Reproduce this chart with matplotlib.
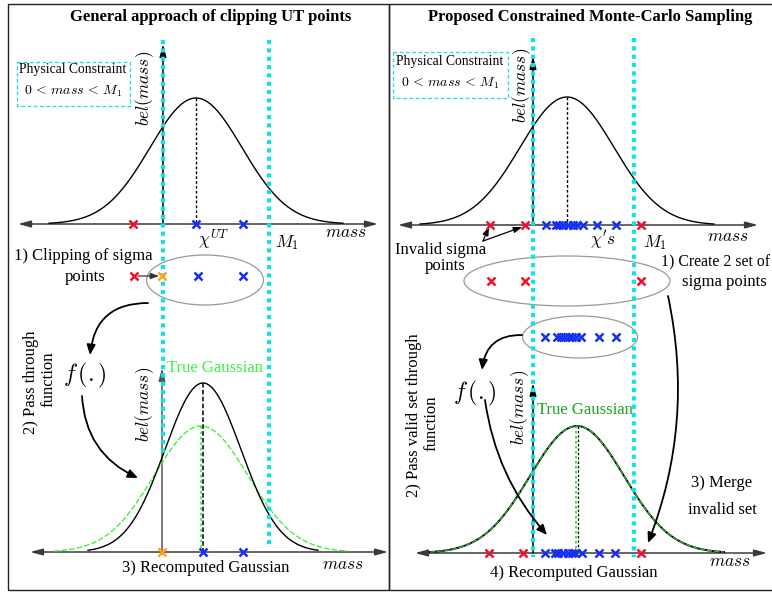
import numpy as np
import matplotlib
matplotlib.use("Agg")
import matplotlib.pyplot as plt
from matplotlib.patches import Ellipse, Rectangle, FancyArrowPatch

plt.rcParams['font.family'] = ['Liberation Serif', 'DejaVu Serif']
plt.rcParams['mathtext.fontset'] = 'cm'

# ---------------- data (pixel space of the diagram) ----------------
# left panel
L_axis_top_y = 224
L_axis_bot_y = 552
L_lower_bound = 163
L_upper_bound = 269
L_top_mu, L_top_sigma, L_top_peak = 196, 46, 126
L_sigma_top_red = [133]
L_sigma_top_blue = [196, 243]
L_clip_red = [134]
L_clip_orange = [162]
L_clip_blue = [198, 243]
L_rec_mu, L_rec_sigma, L_rec_peak = 203, 38, 169
L_true_mu, L_true_sigma, L_true_peak = 201, 47, 126
L_bot_orange = [162]
L_bot_blue = [203, 243]

# right panel
R_axis_top_y = 225
R_axis_bot_y = 553
R_lower_bound = 533
R_upper_bound = 634
R_top_mu, R_top_sigma, R_top_peak = 567, 47, 128
R_top_red = [490, 525, 641]
R_top_blue = [546, 556, 559, 563, 568, 573, 577, 583, 597, 616]
R_inv_red = [491, 525, 641]
R_val_blue = [545, 557, 561, 565, 569, 572, 576, 581, 599, 616]
R_bot_mu, R_bot_sigma, R_bot_peak = 577, 47, 127
R_bot_red = [489, 523, 641]
R_bot_blue = [545, 555, 558, 563, 568, 572, 575, 582, 599, 615]

CYAN = '#12e2e2'
RED = '#f0102a'
BLUE = '#1530f0'
ORANGE = '#ffa21a'
LIME = '#44ee44'
DGREEN = '#1fa31f'
AXC = '#3a3a3a'

fig = plt.figure(figsize=(7.72, 5.92), dpi=100)
ax = fig.add_axes([0, 0, 1, 1])
ax.set_xlim(0, 772)
ax.set_ylim(592, 0)
ax.axis('off')

# panel borders
ax.add_patch(Rectangle((8, 4), 381, 586, fill=False, ec='#222222', lw=1.0))
ax.add_patch(Rectangle((389, 4), 390, 586, fill=False, ec='#222222', lw=1.0))


def gauss(mu, sig, peak, base, half=147, **kw):
    x = np.linspace(mu - half, mu + half, 400)
    y = base - peak * np.exp(-(x - mu) ** 2 / (2 * sig ** 2))
    ax.plot(x, y, **kw)
    return mu, base - peak


HEAD = '-|>,head_length=0.75,head_width=0.2'
HEAD2 = '<|-|>,head_length=0.75,head_width=0.2'


def harrow(x0, x1, y):
    ax.annotate('', xy=(x0, y), xytext=(x1, y),
                arrowprops=dict(arrowstyle=HEAD2, color=AXC, lw=1.1,
                                shrinkA=0, shrinkB=0), zorder=2)


def varrow(x, y0, y1, color=AXC):
    ax.annotate('', xy=(x, y1), xytext=(x, y0),
                arrowprops=dict(arrowstyle=HEAD, color=color, lw=1.1,
                                shrinkA=0, shrinkB=0), zorder=2)


def cyan(x, y0, y1):
    ax.plot([x, x], [y0, y1], color=CYAN, lw=3.0, dashes=(1.0, 1.0),
            solid_capstyle='butt', dash_capstyle='butt', zorder=3)


def crosses(xs, y, color):
    ax.plot(xs, [y] * len(xs), ls='none', marker='x', ms=5.5, mew=1.8,
            color=color, zorder=5)


def curved(p0, p1, rad, lw=1.3):
    a = FancyArrowPatch(p0, p1, connectionstyle=f'arc3,rad={rad}',
                        arrowstyle='-|>,head_length=6,head_width=2.6',
                        color='black', lw=lw, shrinkA=0, shrinkB=0, zorder=4)
    ax.add_patch(a)


TS = 12
MS = 12.5
TT = 12
PC = 9.8
BD = 10
FS = 17

# ================= LEFT PANEL =================
ax.text(211, 17, 'General approach of clipping UT points', ha='center', va='center',
        fontsize=TT, fontweight='bold')
ax.add_patch(Rectangle((17, 62), 113, 44, fill=False, ec=CYAN, lw=0.9, ls=(0, (3, 2))))
ax.text(73, 70, 'Physical Constraint', ha='center', va='center', fontsize=PC)
ax.text(73, 91, r'$0\,<\,mass\,<\,M_1$', ha='center', va='center', fontsize=BD)

harrow(18, 378, L_axis_top_y)
varrow(L_lower_bound, L_axis_top_y, 44, color='black')
pk = gauss(L_top_mu, L_top_sigma, L_top_peak, L_axis_top_y, color='black', lw=1.0)
ax.plot([pk[0], pk[0]], [pk[1], L_axis_top_y], color='black', lw=1.0, ls=(0, (2, 1.5)))
crosses(L_sigma_top_red, L_axis_top_y, RED)
crosses(L_sigma_top_blue, L_axis_top_y, BLUE)
ax.text(145, 88, r'$bel(mass)$', rotation=90, ha='center', va='center', fontsize=MS)
ax.text(213, 240, r'$\chi^{UT}$', ha='center', va='center', fontsize=MS)
ax.text(287, 243, r'$M_1$', ha='center', va='center', fontsize=MS)
ax.text(346, 233, r'$mass$', ha='center', va='center', fontsize=MS)

ax.text(83, 256, '1) Clipping of sigma', ha='center', va='center', fontsize=TS)
ax.text(85, 277, 'points', ha='center', va='center', fontsize=TS)
ax.add_patch(Ellipse((205, 280), 117, 50, fill=False, ec='#999999', lw=0.9))
crosses(L_clip_red, 276, RED)
crosses(L_clip_orange, 276, ORANGE)
crosses(L_clip_blue, 276, BLUE)
ax.annotate('', xy=(L_clip_orange[0] - 3, 276), xytext=(L_clip_red[0] + 4, 276),
            arrowprops=dict(arrowstyle='-|>,head_length=0.5,head_width=0.18',
                            color='#333333', lw=0.9, shrinkA=0, shrinkB=0))

curved((148, 303), (90, 355), 0.45)
ax.text(85, 375, r'$f\,(.)$', ha='center', va='center', fontsize=FS)
curved((82, 396), (138, 478), 0.3)
ax.text(31, 382, '2) Pass through', rotation=90, ha='center', va='center', fontsize=TS)
ax.text(48, 379, 'function', rotation=90, ha='center', va='center', fontsize=TS)

harrow(30, 388, L_axis_bot_y)
varrow(L_lower_bound - 1, L_axis_bot_y, 368, color='#555555')
gauss(L_true_mu, L_true_sigma, L_true_peak, L_axis_bot_y, color=LIME, lw=1.0, ls=(0, (4, 1.5)))
pk2 = gauss(L_rec_mu, L_rec_sigma, L_rec_peak, L_axis_bot_y, half=115, color='black', lw=1.0)
ax.plot([L_true_mu, L_true_mu], [L_axis_bot_y - L_true_peak, L_axis_bot_y], color=LIME,
        lw=1.3, ls=(0, (1.5, 1.5)))
ax.plot([pk2[0], pk2[0]], [pk2[1], L_axis_bot_y], color='black', lw=1.1, ls=(0, (3, 1.5)))
crosses(L_bot_orange, L_axis_bot_y, ORANGE)
crosses(L_bot_blue, L_axis_bot_y, BLUE)
ax.text(145, 404, r'$bel(mass)$', rotation=90, ha='center', va='center', fontsize=MS)
ax.text(215, 368, 'True Gaussian', ha='center', va='center', fontsize=TS, color=LIME)
ax.text(206, 568, '3) Recomputed Gaussian', ha='center', va='center', fontsize=TS)
ax.text(343, 565, r'$mass$', ha='center', va='center', fontsize=MS)

cyan(L_lower_bound, 40, 455)
cyan(L_upper_bound, 40, 548)

# ================= RIGHT PANEL =================
ax.text(590, 17, 'Proposed Constrained Monte-Carlo Sampling', ha='center', va='center',
        fontsize=TT, fontweight='bold')
ax.add_patch(Rectangle((393, 52), 115, 46, fill=False, ec=CYAN, lw=0.9, ls=(0, (3, 2))))
ax.text(450, 62, 'Physical Constraint', ha='center', va='center', fontsize=PC)
ax.text(450, 83, r'$0\,<\,mass\,<\,M_1$', ha='center', va='center', fontsize=BD)

harrow(398, 758, R_axis_top_y)
varrow(R_lower_bound, R_axis_top_y, 56, color='black')
pk3 = gauss(R_top_mu, R_top_sigma, R_top_peak, R_axis_top_y, color='black', lw=1.0)
ax.plot([pk3[0], pk3[0]], [pk3[1], R_axis_top_y], color='black', lw=1.0, ls=(0, (2, 1.5)))
crosses(R_top_red, R_axis_top_y, RED)
crosses(R_top_blue, R_axis_top_y, BLUE)
ax.text(522, 85, r'$bel(mass)$', rotation=90, ha='center', va='center', fontsize=MS)
ax.text(603, 240, r"$\chi' s$", ha='center', va='center', fontsize=MS)
ax.text(655, 243, r'$M_1$', ha='center', va='center', fontsize=MS)
ax.text(728, 237, r'$mass$', ha='center', va='center', fontsize=MS)

ax.text(441, 250, 'Invalid sigma', ha='center', va='center', fontsize=TS)
ax.text(445, 266, 'points', ha='center', va='center', fontsize=TS)
for tx in (489, 522):
    ax.annotate('', xy=(tx, 227), xytext=(483, 241),
                arrowprops=dict(arrowstyle='-|>,head_length=0.5,head_width=0.18',
                                color='black', lw=0.9, shrinkA=0, shrinkB=0))
ax.text(661, 262, '1) Create 2 set of', ha='left', va='center', fontsize=11.3)
ax.text(724, 282, 'sigma points', ha='center', va='center', fontsize=TS)

ax.add_patch(Ellipse((567, 281), 206, 50, fill=False, ec='#999999', lw=0.9))
crosses(R_inv_red, 281, RED)
ax.add_patch(Ellipse((580, 337), 115, 42, fill=False, ec='#999999', lw=0.9))
crosses(R_val_blue, 337, BLUE)

curved((522, 335), (482, 370), 0.45)
ax.text(475, 393, r'$f\,(.)$', ha='center', va='center', fontsize=FS)
curved((485, 400), (547, 535), 0.15)
curved((668, 296), (648, 543), -0.15)
ax.text(414, 415, '2) Pass valid set through', rotation=90, ha='center', va='center',
        fontsize=TS)
ax.text(431, 423, 'function', rotation=90, ha='center', va='center', fontsize=TS)
ax.text(722, 483, '3) Merge', ha='center', va='center', fontsize=TS)
ax.text(722, 510, 'invalid set', ha='center', va='center', fontsize=TS)

harrow(415, 767, R_axis_bot_y)
varrow(R_lower_bound, R_axis_bot_y, 383, color='black')
pk4 = gauss(R_bot_mu, R_bot_sigma, R_bot_peak, R_axis_bot_y, color='black', lw=1.4)
gauss(R_bot_mu, R_bot_sigma, R_bot_peak, R_axis_bot_y, color='#33cc33', lw=0.8,
      ls=(0, (5, 1.5)))
ax.plot([pk4[0] - 1, pk4[0] - 1], [pk4[1], R_axis_bot_y], color='#33cc33', lw=1.2,
        ls=(0, (1.5, 1.5)))
ax.plot([pk4[0] + 1, pk4[0] + 1], [pk4[1], R_axis_bot_y], color='black', lw=0.9,
        ls=(0, (2, 1.5)))
crosses(R_bot_red, R_axis_bot_y, RED)
crosses(R_bot_blue, R_axis_bot_y, BLUE)
ax.text(520, 407, r'$bel(mass)$', rotation=90, ha='center', va='center', fontsize=MS)
ax.text(585, 410, 'True Gaussian', ha='center', va='center', fontsize=TS, color=DGREEN)
ax.text(574, 573, '4) Recomputed Gaussian', ha='center', va='center', fontsize=TS)
ax.text(730, 562, r'$mass$', ha='center', va='center', fontsize=MS)

cyan(R_lower_bound, 38, 557)
cyan(R_upper_bound, 38, 557)

fig.savefig('out.png', dpi=100)
